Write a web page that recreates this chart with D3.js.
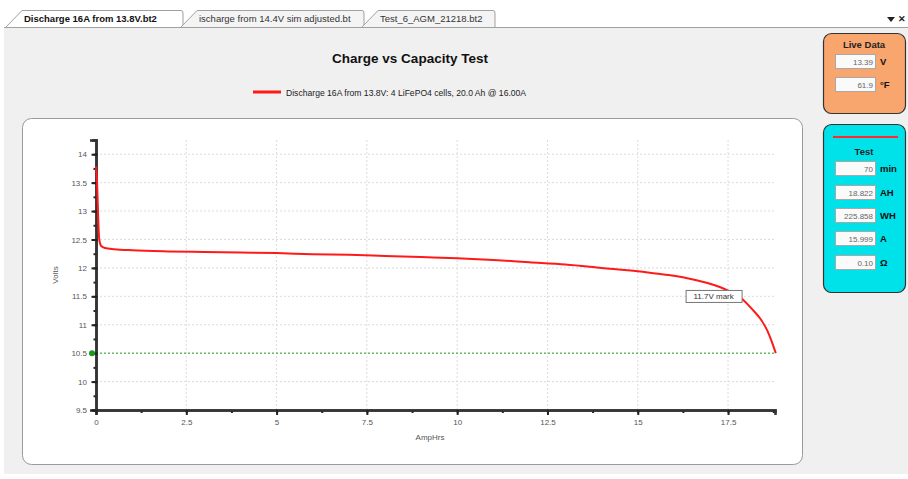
<!DOCTYPE html>
<html>
<head>
<meta charset="utf-8">
<script src="https://cdn.jsdelivr.net/npm/d3@7.9.0/dist/d3.min.js"></script>
<style>
  body { margin: 0; background: #fff; font-family: "Liberation Sans", Arial, sans-serif; }
  svg text { font-family: "Liberation Sans", Arial, sans-serif; }
</style>
</head>
<body>
<svg id="chart" width="908" height="479"></svg>
<script>
// discharge curve
const ampHrs = [0, 0.03, 0.06, 0.09, 0.15, 0.25, 0.5, 1, 2, 3, 4, 5, 6, 7, 8, 9, 10, 11, 12, 13, 14, 15, 15.5, 16, 16.5, 17, 17.5, 17.9, 18.2, 18.4, 18.6, 18.7, 18.822];
const volts = [13.78, 13.5, 12.9, 12.5, 12.38, 12.35, 12.33, 12.31, 12.29, 12.28, 12.27, 12.26, 12.24, 12.23, 12.21, 12.19, 12.17, 12.14, 12.1, 12.06, 12.0, 11.94, 11.9, 11.86, 11.8, 11.72, 11.6, 11.45, 11.25, 11.1, 10.88, 10.72, 10.5];

const cutoffVolts = 10.5;
const markLabel = '11.7V mark';
const markAh = 17.1;
const markV = 11.7;

const tabNames = ['Discharge 16A from 13.8V.bt2', 'ischarge from 14.4V sim adjusted.bt', 'Test_6_AGM_21218.bt2'];
const liveLabels = ['13.39', '61.9'];
const liveUnits = ['V', '°F'];
const testLabels = ['70', '18.822', '225.858', '15.999', '0.10'];
const testUnits = ['min', 'AH', 'WH', 'A', 'Ω'];

const title = 'Charge vs Capacity Test';
const seriesName = 'Discharge 16A from 13.8V: 4 LiFePO4 cells, 20.0 Ah @ 16.00A';

const svg = d3.select('#chart');

// window background
svg.append('rect').attr('x', 4).attr('y', 27).attr('width', 904).attr('height', 447).attr('fill', '#f0f0f0');

// tab strip
svg.append('line').attr('x1', 4).attr('x2', 908).attr('y1', 27.5).attr('y2', 27.5).attr('stroke', '#a0a0a0');
const tabX = [[6, 183], [181, 364], [362, 495]];
tabNames.forEach((name, i) => {
  let [a, b] = tabX[i];
  let active = i === 0;
  svg.append('path')
    .attr('d', `M${a},27 L${a + 16},10.5 L${b - 2},10.5 Q${b},10.5 ${b},13 L${b},27`)
    .attr('fill', active ? '#ffffff' : '#f4f4f4')
    .attr('stroke', '#a0a0a0');
  svg.append('text')
    .attr('x', a + 18).attr('y', 22)
    .attr('font-size', 9.5)
    .attr('font-weight', active ? 'bold' : 'normal')
    .attr('fill', active ? '#111' : '#333')
    .text(name);
});
svg.append('path').attr('d', 'M887,17 L895,17 L891,22 Z').attr('fill', '#222');
svg.append('text').attr('x', 898).attr('y', 22).attr('font-size', 9).attr('font-weight', 'bold').attr('fill', '#222').text('✕');

// title + legend
svg.append('text').attr('x', 410).attr('y', 63).attr('text-anchor', 'middle')
  .attr('font-size', 13.5).attr('font-weight', 'bold').attr('fill', '#111').text(title);
svg.append('line').attr('x1', 253).attr('x2', 281).attr('y1', 92).attr('y2', 92)
  .attr('stroke', '#ff1a1a').attr('stroke-width', 3);
svg.append('text').attr('x', 286).attr('y', 95.5).attr('font-size', 8.6).attr('fill', '#222').text(seriesName);

// chart panel
svg.append('rect').attr('x', 22.5).attr('y', 118.5).attr('width', 780).attr('height', 346)
  .attr('rx', 9).attr('fill', '#ffffff').attr('stroke', '#9a9a9a');

// scales
const x = d3.scaleLinear().domain([0, 18.8]).range([96, 775]);
const y = d3.scaleLinear().domain([9.5, 14.25]).range([410, 140]);

const xMajor = d3.range(0, 18.8, 2.5);
const xMinor = d3.range(0, 18.8, 1.25);
const yMajor = d3.range(9.5, 14.01, 0.5);
const yMinor = d3.range(9.5, 14.26, 0.25);

// grid
const grid = svg.append('g').attr('stroke', '#dcdcdc').attr('stroke-dasharray', '2,2');
xMajor.filter((d) => d > 0).forEach((d) => {
  grid.append('line').attr('x1', x(d)).attr('x2', x(d)).attr('y1', y(14.25)).attr('y2', y(9.5));
});
yMajor.filter((d) => d > 9.5).forEach((d) => {
  grid.append('line').attr('x1', x(0)).attr('x2', x(18.8)).attr('y1', y(d)).attr('y2', y(d));
});

// cutoff line
svg.append('line').attr('x1', x(0)).attr('x2', x(18.8)).attr('y1', y(cutoffVolts)).attr('y2', y(cutoffVolts))
  .attr('stroke', '#22aa22').attr('stroke-dasharray', '2,2').attr('stroke-width', 1);

// axes
const xAxis = svg.append('g').attr('transform', `translate(0,${y(9.5)})`)
  .call(d3.axisBottom(x).tickValues(xMinor).tickSize(3).tickFormat(''));
xAxis.append('g').call(d3.axisBottom(x).tickValues(xMajor).tickSize(5).tickFormat(d3.format('~g')));
xAxis.selectAll('.domain').attr('stroke', '#333').attr('stroke-width', 2.5);
xAxis.selectAll('.tick line').attr('stroke', '#222').attr('stroke-width', 2);
xAxis.selectAll('text').attr('font-size', 8).attr('fill', '#555').attr('dy', '0.9em');

const yAxis = svg.append('g').attr('transform', `translate(${x(0)},0)`)
  .call(d3.axisLeft(y).tickValues(yMinor).tickSize(4).tickFormat(''));
yAxis.append('g').call(d3.axisLeft(y).tickValues(yMajor).tickSize(6).tickFormat(d3.format('~g')));
yAxis.selectAll('.domain').attr('stroke', '#333').attr('stroke-width', 2.5);
yAxis.selectAll('.tick line').attr('stroke', '#222').attr('stroke-width', 2).attr('transform', 'translate(1.5,0)');
yAxis.selectAll('text').attr('font-size', 8).attr('fill', '#555');

svg.append('text').attr('transform', `translate(58,${(y(9.5) + y(14.25)) / 2}) rotate(-90)`)
  .attr('text-anchor', 'middle').attr('font-size', 8).attr('fill', '#555').text('Volts');
svg.append('text').attr('x', 430).attr('y', 440).attr('text-anchor', 'middle')
  .attr('font-size', 8).attr('fill', '#555').text('AmpHrs');

// cutoff marker
svg.append('circle').attr('cx', x(0) - 4).attr('cy', y(cutoffVolts)).attr('r', 3).attr('fill', '#1a9a1a');

// discharge curve
const pts = ampHrs.map((a, i) => [a, volts[i]]);
const line = d3.line().x((d) => x(d[0])).y((d) => y(d[1])).curve(d3.curveMonotoneX);
svg.append('path').datum(pts).attr('d', line).attr('fill', 'none')
  .attr('stroke', '#ff1a1a').attr('stroke-width', 2);

// annotation
let mx = x(markAh), my = y(markV) + 6;
svg.append('rect').attr('x', mx - 27.5).attr('y', my - 0.5).attr('width', 56).attr('height', 12)
  .attr('fill', '#fff').attr('stroke', '#777');
svg.append('text').attr('x', mx).attr('y', my + 8.5).attr('text-anchor', 'middle')
  .attr('font-size', 8).attr('fill', '#333').text(markLabel);

// side boxes
function valueBox(yy, val, unit) {
  svg.append('rect').attr('x', 835.5).attr('y', yy + 0.5).attr('width', 40).attr('height', 14)
    .attr('fill', '#fafafa').attr('stroke', '#a8a8a8');
  svg.append('text').attr('x', 873).attr('y', yy + 10.5).attr('text-anchor', 'end')
    .attr('font-size', 8).attr('fill', '#666').text(val);
  svg.append('text').attr('x', 880).attr('y', yy + 11).attr('font-size', 9.5).attr('font-weight', 'bold')
    .attr('fill', '#111').text(unit);
}

svg.append('rect').attr('x', 823.5).attr('y', 33.5).attr('width', 82).attr('height', 80).attr('rx', 8)
  .attr('fill', '#f9a56e').attr('stroke', '#333').attr('stroke-width', 1.2);
svg.append('text').attr('x', 864).attr('y', 48).attr('text-anchor', 'middle')
  .attr('font-size', 9.5).attr('font-weight', 'bold').attr('fill', '#222').text('Live Data');
liveLabels.forEach((v, i) => valueBox(54 + i * 23, v, liveUnits[i]));

svg.append('rect').attr('x', 823.5).attr('y', 124.5).attr('width', 82).attr('height', 168).attr('rx', 8)
  .attr('fill', '#00e2ea').attr('stroke', '#333').attr('stroke-width', 1.2);
svg.append('line').attr('x1', 833).attr('x2', 898).attr('y1', 137).attr('y2', 137)
  .attr('stroke', '#ff2a2a').attr('stroke-width', 2);
svg.append('text').attr('x', 864).attr('y', 155).attr('text-anchor', 'middle')
  .attr('font-size', 9.5).attr('font-weight', 'bold').attr('fill', '#222').text('Test');
const testY = [161, 185, 208, 231, 255];
testLabels.forEach((v, i) => valueBox(testY[i], v, testUnits[i]));
</script>
</body>
</html>
